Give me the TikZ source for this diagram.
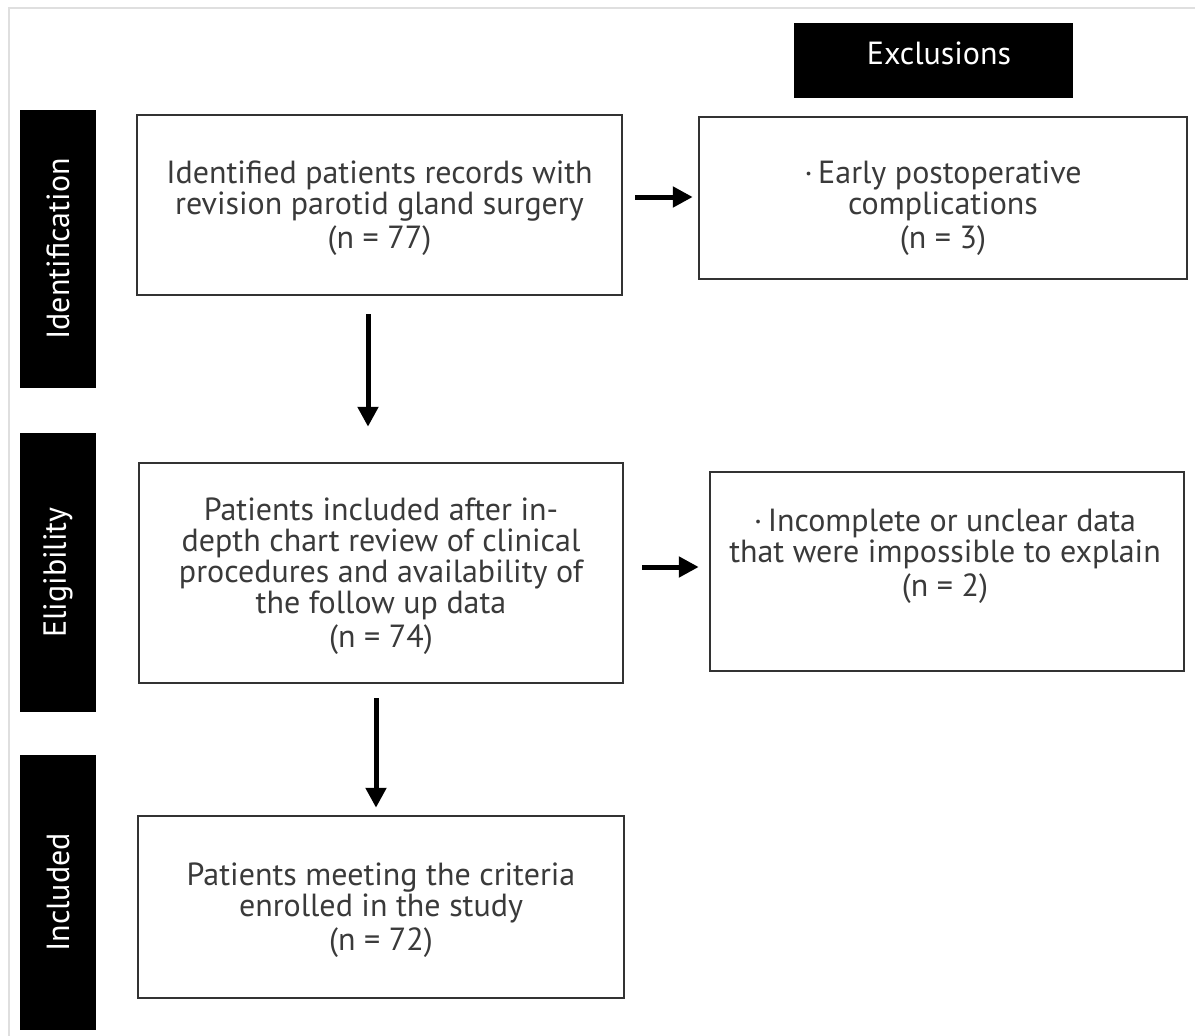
\documentclass[tikz,border=0pt]{standalone}
\usepackage{fontspec}
\setmainfont{PT Sans}
\newfontfamily\diafont{PT Sans}
\usetikzlibrary{arrows.meta}
\definecolor{txtgray}{HTML}{3A3A3A}
\definecolor{linegray}{HTML}{333333}
\tikzset{
  box/.style={draw=linegray, line width=2.5pt, fill=white, inner sep=0pt},
  bar/.style={fill=black, draw=none, inner sep=0pt},
  txt/.style={text=txtgray, align=center, font=\diafont\fontsize{32}{31}\selectfont, inner sep=0pt},
  bartxt/.style={text=white, align=center, font=\diafont\fontsize{32}{31}\selectfont, inner sep=0pt},
  arr/.style={line width=5pt, draw=black, -{Triangle[length=20pt,width=20pt]}},
}
\begin{document}
\begin{tikzpicture}[x=1pt,y=-1pt]
\useasboundingbox (0,0) rectangle (1195,1036);
% outer light frame
\draw[gray!25, line width=1.5pt] (9,1036) -- (9,8) -- (1195,8);
% side bars
\node[bar, minimum width=76pt, minimum height=278pt] (sbid) at (58,249) {};
\node[bartxt, rotate=90] (sbidt) at (sbid.center) {Identification};
\node[bar, minimum width=76pt, minimum height=279pt] (sbel) at (58,572.5) {};
\node[bartxt, rotate=90] (sbelt) at (sbel.center) {Eligibility};
\node[bar, minimum width=76pt, minimum height=275pt] (sbin) at (58,892.5) {};
\node[bartxt, rotate=90] (sbint) at (sbin.center) {Included};
% exclusions header
\node[bar, minimum width=279pt, minimum height=75pt] (exh) at (933.5,60.5) {};
\node[bartxt] (exht) at (939,53) {Exclusions};
% main boxes
\node[box, minimum width=485pt, minimum height=180pt] (b1) at (379.5,205) {};
\node[txt] (b1t) at (379.5,208) {Identified patients records with\\revision parotid gland surgery\\[3pt](n = 77)};
\node[box, minimum width=484pt, minimum height=220pt] (b2) at (381,573) {};
\node[txt] (b2t) at (381,576) {Patients included after in-\\depth chart review of clinical\\procedures and availability of\\the follow up data\\[3pt](n = 74)};
\node[box, minimum width=486pt, minimum height=182pt] (b3) at (381,907) {};
\node[txt] (b3t) at (381,910) {Patients meeting the criteria\\enrolled in the study\\[3pt](n = 72)};
% exclusion boxes
\node[box, minimum width=488pt, minimum height=162pt] (ex1) at (943,198) {};
\node[txt] (ex1t) at (943,208) {·\,Early postoperative\\complications\\[3pt](n = 3)};
\node[box, minimum width=474pt, minimum height=199pt] (ex2) at (947,571.5) {};
\node[txt] (ex2t) at (945,556) {·\,Incomplete or unclear data\\that were impossible to explain\\[3pt](n = 2)};
% arrows
\coordinate (a1s) at ([xshift=-11.5pt,yshift=-18pt]b1.south);
\draw[arr] (a1s) -- ([yshift=35pt]a1s |- b2.north);
\coordinate (a2s) at ([xshift=-5pt,yshift=-14pt]b2.south);
\draw[arr] (a2s) -- ([yshift=7pt]a2s |- b3.north);
\coordinate (a3s) at ([xshift=12pt,yshift=8pt]b1.east);
\draw[arr] (a3s) -- ([xshift=-5pt]a3s -| ex1.west);
\coordinate (a4s) at ([xshift=18pt,yshift=6pt]b2.east);
\draw[arr] (a4s) -- ([xshift=-10pt]a4s -| ex2.west);
\end{tikzpicture}
\end{document}
